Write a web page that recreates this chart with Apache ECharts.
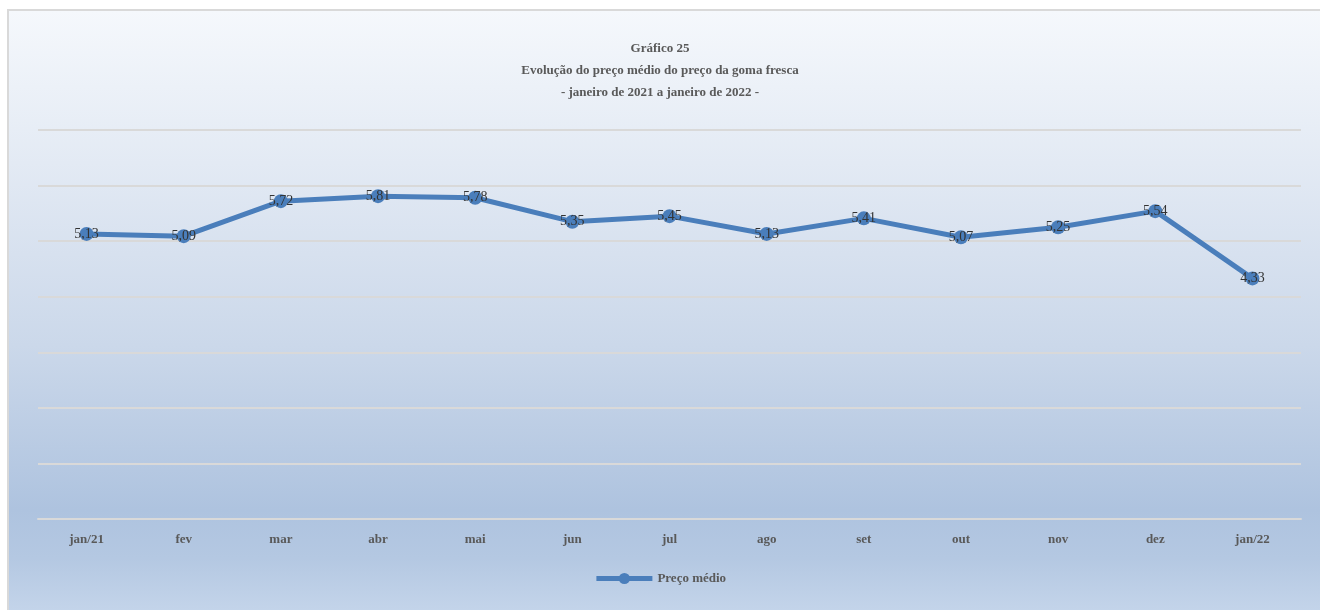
<!DOCTYPE html>
<html>
<head>
<meta charset="utf-8">
<script src="https://cdn.jsdelivr.net/npm/echarts@6/dist/echarts.min.js"></script>
<style>
html,body{margin:0;padding:0;width:1320px;height:610px;overflow:hidden;background:#ffffff;}
#frame{position:absolute;left:7px;top:9px;width:1320px;height:610px;box-sizing:border-box;border-left:2px solid #d9d9d9;border-top:2px solid #d9d9d9;
background:linear-gradient(to bottom,#f5f8fc 0%,#e3eaf4 25%,#cbd8ea 55%,#aec3df 82%,#b4c8e2 90%,#c6d6eb 100%);}
#chart{position:absolute;left:0;top:0;width:1320px;height:610px;}
</style>
</head>
<body>
<div id="frame"></div>
<div id="chart"></div>
<script>
var categories = ['jan/21','fev','mar','abr','mai','jun','jul','ago','set','out','nov','dez','jan/22'];
var precoMedio = [5.13, 5.09, 5.72, 5.81, 5.78, 5.35, 5.45, 5.13, 5.41, 5.07, 5.25, 5.54, 4.33];
var seriesName = 'Preço médio';
var titleLines = ['Gráfico 25','Evolução do preço médio do preço da goma fresca','- janeiro de 2021 a janeiro de 2022 -'];

var FONT = '"Liberation Serif","Times New Roman",serif';
var chart = echarts.init(document.getElementById('chart'), null, {renderer:'canvas'});
chart.setOption({
  backgroundColor: 'transparent',
  animation: false,
  title: {
    text: titleLines.join('\n'),
    left: 'center',
    top: 33,
    textStyle: {fontFamily: FONT, fontSize: 13, fontWeight: 'bold', color: '#595959', lineHeight: 22}
  },
  grid: {left: 38, right: 19, top: 130, bottom: 91, containLabel: false},
  legend: {
    bottom: 20,
    left: 'center',
    itemWidth: 56,
    itemHeight: 14,
    itemGap: 10,
    lineStyle: {width: 5},
    textStyle: {fontFamily: FONT, fontSize: 13, fontWeight: 'bold', color: '#595959'},
    data: [seriesName]
  },
  xAxis: {
    type: 'category',
    data: categories,
    boundaryGap: true,
    axisLine: {show: true, lineStyle: {color: '#d9d9d9', width: 2}},
    axisTick: {show: false},
    axisLabel: {fontFamily: FONT, fontSize: 13, fontWeight: 'bold', color: '#595959', margin: 14}
  },
  yAxis: {
    type: 'value',
    min: 0, max: 7, interval: 1,
    axisLabel: {show: false},
    axisLine: {show: false},
    axisTick: {show: false},
    splitLine: {show: true, lineStyle: {color: '#d9d9d9', width: 2}}
  },
  series: [{
    name: seriesName,
    type: 'line',
    data: precoMedio,
    symbol: 'circle',
    symbolSize: 14,
    itemStyle: {color: '#4a7ebb'},
    lineStyle: {color: '#4a7ebb', width: 5},
    label: {
      show: true,
      position: 'inside',
      fontFamily: FONT,
      fontSize: 14,
      color: '#333333',
      formatter: function(p){ return p.value.toFixed(2).replace('.', ','); }
    }
  }]
});
</script>
</body>
</html>
